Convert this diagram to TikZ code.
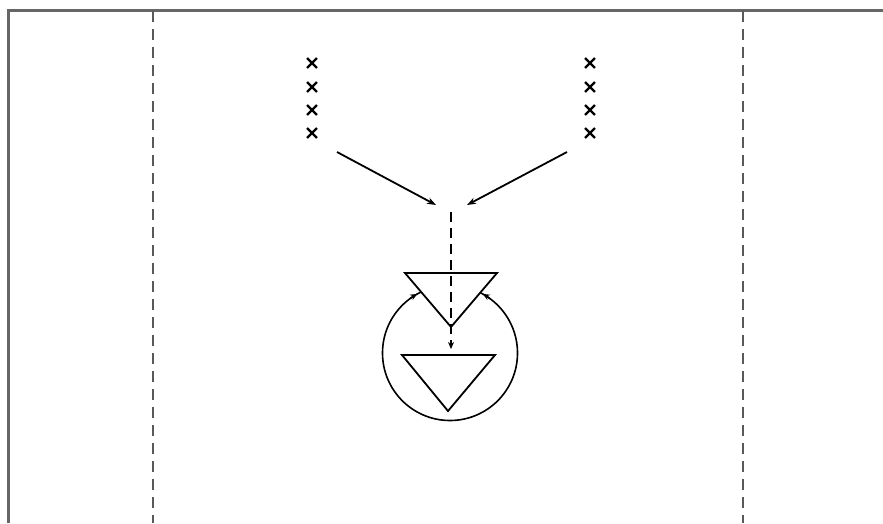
\documentclass[tikz,border=0pt]{standalone}
\usetikzlibrary{arrows.meta,shapes.misc}
\begin{document}
\begin{tikzpicture}[x=1pt,y=-1pt,
  framel/.style={draw=black!60,line width=3pt},
  lanel/.style={draw=black!65,line width=2.5pt,dash pattern=on 11pt off 7pt},
  xmark/.style={cross out,draw=black,line width=2.4pt,minimum size=7.5pt,inner sep=0pt},
  flow/.style={draw=black,line width=1.8pt,-{Stealth[length=9pt,width=6.5pt]}},
  pass/.style={draw=black,line width=1.7pt,dash pattern=on 10pt off 6pt,-{Stealth[length=7pt,width=6pt]}},
  tri/.style={draw=black,line width=1.8pt,fill=white},
  ring/.style={draw=black,line width=1.6pt}]
\useasboundingbox (0,0) rectangle (883,523);
\fill[white] (0,0) rectangle (883,523);
% frame
\draw[framel] (8,523) -- (8,10) -- (883,10);
% lane lines
\draw[lanel] (153,11) -- (153,523);
\draw[lanel] (743,11) -- (743,523);
% crosses
\foreach \i/\y in {1/63,2/87,3/110,4/133}{
  \node[xmark] (l\i) at (312,\y) {};
  \node[xmark] (r\i) at (590,\y) {};
}
% arrows
\coordinate (la) at (337,152);
\coordinate (lb) at (436,205);
\coordinate (ra) at (567,152);
\coordinate (rb) at (467,205);
\draw[flow] (la) -- (lb);
\draw[flow] (ra) -- (rb);
% circle
\coordinate (c) at (450,353);
\draw[ring] (c) circle (67.5);
% upper triangle
\draw[tri] (405,273) -- (497,273) -- (451,327) -- cycle;
% arrow tips on circle at triangle junctions
\draw[ring,-{Stealth[length=7pt,width=6pt]}] ([shift={(234:67.5)}]c) arc[start angle=234,end angle=241,radius=67.5];
\draw[ring,-{Stealth[length=7pt,width=6pt]}] ([shift={(306:67.5)}]c) arc[start angle=306,end angle=299,radius=67.5];
% dashed pass line
\coordinate (pa) at (451,212);
\coordinate (pb) at (451,349);
\draw[pass] (pa) -- (pb);
% lower triangle
\draw[tri] (402,355) -- (495,355) -- (448,411) -- cycle;
\end{tikzpicture}
\end{document}
